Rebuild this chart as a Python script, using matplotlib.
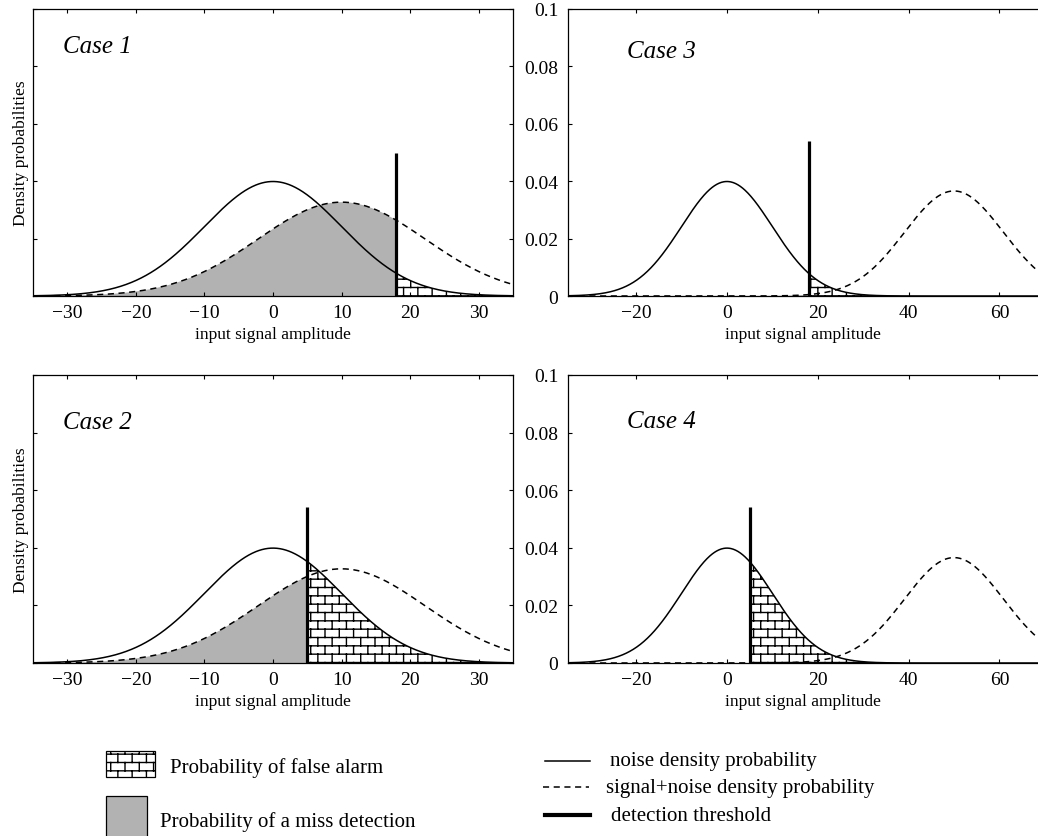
import numpy as np
import matplotlib
matplotlib.use("Agg")
import matplotlib.pyplot as plt
import matplotlib.hatch as mhatch
import matplotlib.path as mpath
from matplotlib.patches import Rectangle
from matplotlib.lines import Line2D

# brick hatch ('b'), the stock hatches have nothing like it
class BrickHatch(mhatch.HatchPatternBase):
    rows, cols = 12, 7

    def __init__(self, hatch, density):
        self.segs = self._make() if 'b' in hatch else np.empty((0, 2, 2))
        self.num_vertices = len(self.segs) * 2

    def _make(self):
        segs = []
        for i in range(self.rows):
            y = (i + 0.5) / self.rows
            segs.append([[0, y], [1, y]])
        for i in range(-1, self.rows):
            y0 = max((i + 0.5) / self.rows, 0)
            y1 = min((i + 1.5) / self.rows, 1)
            shift = 0.5 * (i % 2) + 0.25
            for j in range(self.cols):
                x = (j + shift) / self.cols
                segs.append([[x, y0], [x, y1]])
        return np.array(segs, dtype=float)

    def set_vertices_and_codes(self, vertices, codes):
        vertices[:] = self.segs.reshape(-1, 2)
        codes[0::2] = mpath.Path.MOVETO
        codes[1::2] = mpath.Path.LINETO

mhatch._hatch_types.append(BrickHatch)
mhatch._validate_hatch_pattern = lambda h: None

plt.rcParams['font.family'] = ['Liberation Serif', 'DejaVu Serif']
plt.rcParams['hatch.linewidth'] = 1.0

# data
cases = ['Case 1', 'Case 2', 'Case 3', 'Case 4']
noise_mean = 0.0
noise_sigma = 10.0
signal_mean = [10.0, 10.0, 50.0, 50.0]
signal_sigma = [12.2, 12.2, 10.9, 10.9]
thresholds = [18.0, 5.0, 18.0, 5.0]
threshold_top = [0.050, 0.054, 0.054, 0.054]
xlims = [(-35, 35), (-35, 35), (-35, 68.5), (-35, 68.5)]
xticks_left = [-30, -20, -10, 0, 10, 20, 30]
xticks_right = [-20, 0, 20, 40, 60]
yticks = [0, 0.02, 0.04, 0.06, 0.08, 0.1]
ytick_labels = ['0', '0.02', '0.04', '0.06', '0.08', '0.1']

def gauss(x, m, s):
    return np.exp(-0.5 * ((x - m) / s) ** 2) / (s * np.sqrt(2 * np.pi))

W, H = 1038, 837
fig = plt.figure(figsize=(W / 100, H / 100), dpi=100)

def box(x0, y0, x1, y1):
    return [x0 / W, 1 - y1 / H, (x1 - x0) / W, (y1 - y0) / H]

rects = [box(33, 10, 513, 297), box(33, 376, 513, 664),
         box(568, 10, 1038, 297), box(568, 376, 1038, 664)]
case_pos = [(0.0625, 0.871), (0.0625, 0.837), (0.125, 0.854), (0.125, 0.84)]

miss_color = '#b2b2b2'

for k in range(4):
    ax = fig.add_axes(rects[k])
    lo, hi = xlims[k]
    thr = thresholds[k]
    x = np.linspace(lo, hi, 800)
    xm = np.linspace(lo, thr, 400)
    xf = np.linspace(thr, hi, 400)
    m, s = signal_mean[k], signal_sigma[k]

    ax.fill_between(xm, 0, gauss(xm, m, s), facecolor=miss_color,
                    edgecolor='none', lw=0, zorder=1)
    ax.fill_between(xf, 0, gauss(xf, noise_mean, noise_sigma),
                    facecolor='white', edgecolor='black', lw=0,
                    hatch='b', zorder=1)
    ax.plot(x, gauss(x, noise_mean, noise_sigma), color='black', lw=1.1, zorder=3)
    ax.plot(x, gauss(x, m, s), color='black', lw=1.1, dashes=(4, 3), zorder=3)
    ax.vlines(thr, 0, threshold_top[k], color='black', lw=2.3, zorder=4)

    ax.set_xlim(lo, hi)
    ax.set_ylim(0, 0.1)
    ax.set_yticks(yticks)
    ax.tick_params(direction='in', length=3, width=0.8, top=True,
                   labelsize=14, pad=5.5)
    for sp in ax.spines.values():
        sp.set_linewidth(0.9)
    ax.set_xlabel('input signal amplitude', fontsize=12.5, labelpad=4)
    ax.text(case_pos[k][0], case_pos[k][1], cases[k], transform=ax.transAxes,
            fontsize=18, style='italic', va='center', ha='left')
    if k < 2:
        ax.set_xticks(xticks_left)
        ax.tick_params(axis='y', right=True, labelleft=False)
        ax.set_ylabel('Density probabilities', fontsize=12.5, labelpad=3)
    else:
        ax.set_xticks(xticks_right)
        ax.set_yticklabels(ytick_labels)
        ax.tick_params(axis='y', pad=7)
        ax.spines['right'].set_visible(False)

# legend block at the bottom
def fx(px):
    return px / W

def fy(py):
    return 1 - py / H

fig.patches.append(Rectangle((fx(106), fy(778)), fx(155) - fx(106), fy(752) - fy(778),
                             transform=fig.transFigure, facecolor='white',
                             edgecolor='black', lw=0.9, hatch='b'))
fig.patches.append(Rectangle((fx(106), fy(840)), fx(147) - fx(106), fy(797) - fy(840),
                             transform=fig.transFigure, facecolor=miss_color,
                             edgecolor='black', lw=0.9))
fig.text(fx(170), fy(773), 'Probability of false alarm', fontsize=15, va='baseline')
fig.text(fx(160), fy(827), 'Probability of a miss detection', fontsize=15, va='baseline')

fig.lines.append(Line2D([fx(545), fx(590)], [fy(762), fy(762)], transform=fig.transFigure,
                        color='black', lw=1.1))
fig.lines.append(Line2D([fx(543), fx(589)], [fy(788), fy(788)], transform=fig.transFigure,
                        color='black', lw=1.1, dashes=(4, 3)))
fig.lines.append(Line2D([fx(545), fx(590)], [fy(816), fy(816)], transform=fig.transFigure,
                        color='black', lw=3))
fig.text(fx(610), fy(766), 'noise density probability', fontsize=15, va='baseline')
fig.text(fx(606), fy(793), 'signal+noise density probability', fontsize=15, va='baseline')
fig.text(fx(611), fy(821), 'detection threshold', fontsize=15, va='baseline')

fig.savefig('out.png', dpi=100)
